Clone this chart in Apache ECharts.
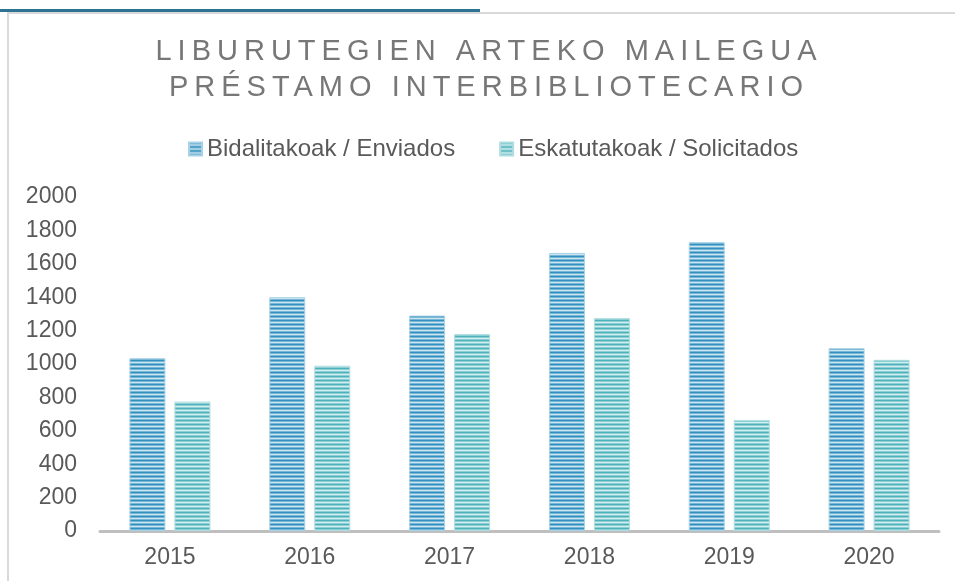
<!DOCTYPE html>
<html>
<head>
<meta charset="utf-8">
<script src="https://cdn.jsdelivr.net/npm/echarts@6/dist/echarts.min.js"></script>
<style>
html, body { margin: 0; padding: 0; background: #fff; }
#mailegua { width: 955px; height: 581px; }
</style>
</head>
<body>
<div id="mailegua"></div>
<script>
const years = ['2015', '2016', '2017', '2018', '2019', '2020']
const enviados = [1035, 1400, 1290, 1665, 1730, 1095]
const solicitados = [775, 990, 1180, 1275, 665, 1025]
const yTicks = [0, 200, 400, 600, 800, 1000, 1200, 1400, 1600, 1800, 2000]

// striped fill like the original bars
function stripes (dark, mid, light) {
  const c = document.createElement('canvas')
  c.width = 4
  c.height = 4
  const ctx = c.getContext('2d')
  const rows = [dark, mid, light, mid]
  rows.forEach((col, i) => {
    ctx.fillStyle = col
    ctx.fillRect(0, i, 4, 1)
  })
  return { image: c, repeat: 'repeat' }
}

const chartDom = document.getElementById('mailegua')
const myChart = echarts.init(chartDom, null, { renderer: 'canvas' })
const option = {
  backgroundColor: '#fff',
  animation: false,
  title: {
    text: 'LIBURUTEGIEN ARTEKO MAILEGUA\nPRÉSTAMO INTERBIBLIOTECARIO',
    left: 484,
    textAlign: 'center',
    top: 29,
    zlevel: 1,
    textStyle: {
      fontFamily: 'Liberation Sans',
      fontSize: 29,
      fontWeight: 'normal',
      color: '#777',
      lineHeight: 36
    }
  },
  legend: {
    top: 132,
    left: 183,
    itemWidth: 13,
    itemHeight: 13,
    itemGap: 44,
    icon: 'rect',
    textStyle: { fontFamily: 'Liberation Sans', fontSize: 24, color: '#595959' },
    data: ['Bidalitakoak / Enviados', 'Eskatutakoak / Solicitados']
  },
  grid: { left: 100, right: 16, top: 197, bottom: 50, containLabel: false },
  xAxis: {
    type: 'category',
    data: years,
    axisLine: { lineStyle: { color: '#bfbfbf', width: 3 } },
    axisTick: { show: false },
    axisLabel: { fontFamily: 'Liberation Sans', fontSize: 23, color: '#595959', margin: 15 }
  },
  yAxis: {
    type: 'value',
    min: yTicks[0],
    max: yTicks[yTicks.length - 1],
    interval: 200,
    splitLine: { show: false },
    axisLine: { show: false },
    axisTick: { show: false },
    axisLabel: {
      fontFamily: 'Liberation Sans',
      fontSize: 23,
      color: '#595959',
      margin: 23,
      formatter: (v) => String(v)
    }
  },
  series: [
    {
      name: 'Bidalitakoak / Enviados',
      type: 'bar',
      data: enviados,
      barWidth: 36,
      barGap: '25%',
      itemStyle: { color: stripes('#3290bf', '#76b6d6', '#cfe6f1'), borderColor: '#a9d2e6', borderWidth: 1 }
    },
    {
      name: 'Eskatutakoak / Solicitados',
      type: 'bar',
      data: solicitados,
      barWidth: 36,
      itemStyle: { color: stripes('#4fb2ba', '#8ccfd4', '#d4eef0'), borderColor: '#b0dde0', borderWidth: 1 }
    }
  ],
  graphic: [
    { type: 'rect', shape: { x: 7, y: 12, width: 948, height: 2 }, style: { fill: '#d9d9d9' }, silent: true },
    { type: 'rect', shape: { x: 7, y: 12, width: 2, height: 569 }, style: { fill: '#d9d9d9' }, silent: true },
    { type: 'rect', shape: { x: 0, y: 9, width: 480, height: 3 }, style: { fill: '#2e7391' }, silent: true }
  ]
}
myChart.setOption(option)

// the title sits on its own layer, spread its letters like the original
try {
  const painter = myChart.getZr().painter
  const layer = painter.getLayer(1)
  if (layer && layer.ctx && 'letterSpacing' in layer.ctx) {
    layer.ctx.letterSpacing = '6px'
    painter.refresh(true)
  }
} catch (err) {
  console.log(err)
}
</script>
</body>
</html>
